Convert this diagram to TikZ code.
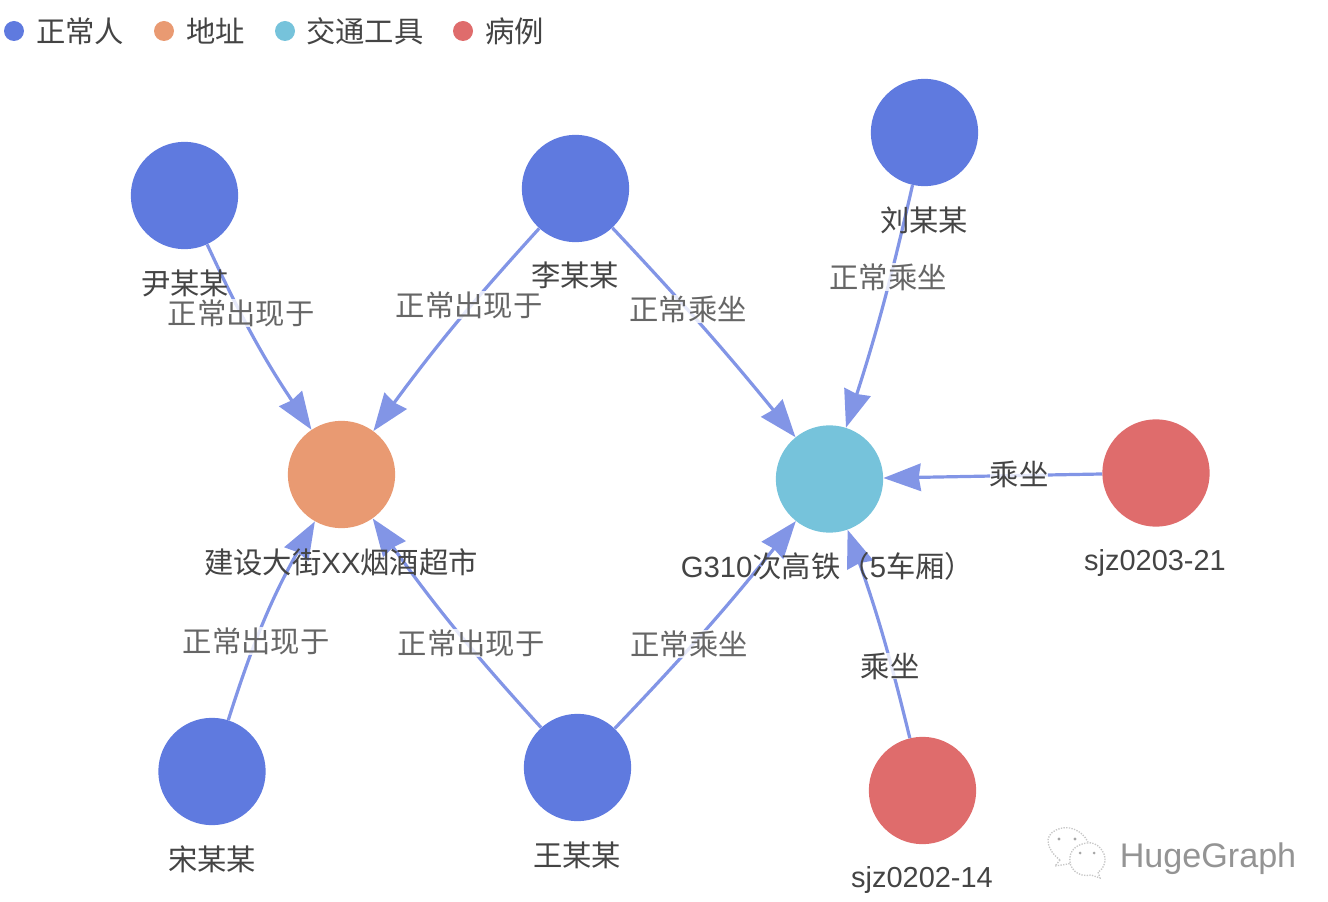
\documentclass[tikz,border=0pt]{standalone}
\usepackage{fontspec}
\setmainfont{Liberation Sans}
\newfontfamily\cjk{Noto Sans CJK SC}
\newfontfamily\latf{Liberation Sans}
\usetikzlibrary{arrows.meta}
\definecolor{cperson}{HTML}{5F7ADF}
\definecolor{caddr}{HTML}{E99A72}
\definecolor{ctrans}{HTML}{76C3DB}
\definecolor{ccase}{HTML}{DF6C6C}
\definecolor{cedge}{HTML}{8295E6}
\definecolor{cname}{HTML}{444444}
\definecolor{clabel}{HTML}{666666}
\tikzset{
  x=0.75pt,y=-0.75pt,
  vertex/.style={circle,minimum size=80.5pt,inner sep=0pt,draw=none},
  person/.style={vertex,fill=cperson},
  addr/.style={vertex,fill=caddr},
  trans/.style={vertex,fill=ctrans},
  case/.style={vertex,fill=ccase},
  link/.style={cedge,line width=2.4pt,-{Stealth[length=28pt,width=20.5pt,inset=1.5pt]}},
  nm/.style={text=cname,font=\fontsize{22}{24}\selectfont\cjk,inner sep=0pt},
  lt/.style={text=cname,font=\fontsize{21.7}{24}\selectfont\latf,inner sep=0pt},
  el/.style={text=clabel,font=\fontsize{22}{24}\selectfont\cjk,inner sep=0pt,fill=white,fill opacity=.8,text opacity=1},
  eldark/.style={el,text=cname},
  legdot/.style={circle,minimum size=15pt,inner sep=0pt},
  legt/.style={text=cname,font=\fontsize{22}{24}\selectfont\cjk,inner sep=0pt,anchor=west},
  wm/.style={draw=black!22,line width=1pt,densely dotted}
}
\begin{document}
\begin{tikzpicture}
\useasboundingbox (0,0) rectangle (1328,902);
% legend
\node[legdot,fill=cperson] (l1) at (14,31) {};
\node[legt] (l1t) at (36,31) {正常人};
\node[legdot,fill=caddr] (l2) at (164,31) {};
\node[legt] (l2t) at (186,31) {地址};
\node[legdot,fill=ctrans] (l3) at (285,31) {};
\node[legt] (l3t) at (306,31) {交通工具};
\node[legdot,fill=ccase] (l4) at (463,31) {};
\node[legt] (l4t) at (485,31) {病例};
% vertices
\node[person] (yin) at (184.5,195.5) {};
\node[person] (li) at (575.5,188.5) {};
\node[person] (liu) at (924.5,132.5) {};
\node[addr] (shop) at (341.5,474.5) {};
\node[trans] (train) at (829.5,479) {};
\node[case] (s21) at (1156,473) {};
\node[person] (song) at (212,771.5) {};
\node[person] (wang) at (577.5,767.5) {};
\node[case] (s14) at (922.5,790.5) {};
% edges
\draw[link] (yin) to[bend right=4.5] (shop);
\draw[link] (li) to[bend right=3] (shop);
\draw[link] (li) to[bend left=2] (train);
\draw[link] (liu) to[bend left=2.5] (train);
\draw[link] (s21) -- (train);
\draw[link] (song) to[bend left=6] (shop);
\draw[link] (wang) to[bend left=3.5] (shop);
\draw[link] (wang) to[bend right=2.5] (train);
\draw[link] (s14) to[bend right=3] (train);
% edge labels
\node[el] (e1) at (241,313) {正常出现于};
\node[el] (e2) at (469,305) {正常出现于};
\node[el] (e3) at (688,309) {正常乘坐};
\node[el] (e4) at (888,277) {正常乘坐};
\node[eldark] (e5) at (1019,474) {乘坐};
\node[el] (e6) at (256,641) {正常出现于};
\node[el] (e7) at (471,643) {正常出现于};
\node[el] (e8) at (689,644) {正常乘坐};
\node[eldark] (e9) at (890,666) {乘坐};
% vertex names
\node[nm] (nyin) at (185,283) {尹某某};
\node[nm] (nli) at (575,275) {李某某};
\node[nm] (nliu) at (924,220) {刘某某};
\node[nm] (nshop) at (341,562) {建设大街{\latf XX}烟酒超市};
\node[nm] (ntrain) at (827.5,566) {{\latf G310}次高铁（{\latf 5}车厢）};
\node[lt] (ns21) at (1155,563.5) {sjz0203-21};
\node[nm] (nsong) at (212,859) {宋某某};
\node[nm] (nwang) at (577,855) {王某某};
\node[lt] (ns14) at (922,880.5) {sjz0202-14};
% watermark
\draw[wm] (1060,860) .. controls (1047,850) and (1043,836) .. (1056,830)
  .. controls (1068,824) and (1082,830) .. (1088,842);
\draw[wm] (1060,860) -- (1055,866) -- (1068,864) -- (1071,863);
\draw[wm] (1087,843) .. controls (1097,841) and (1106,852) .. (1105,861)
  .. controls (1104,868) and (1100,871) .. (1098,872) -- (1100,878) -- (1091,875)
  .. controls (1078,878) and (1068,868) .. (1070,857)
  .. controls (1071,849) and (1078,844) .. (1087,843);
\fill[black!35] (1059,839) circle (1.6) (1075,839) circle (1.6) (1080,853) circle (1.5) (1094,853) circle (1.5);
\node[text=black!42,font=\fontsize{25.6}{28}\selectfont\latf,inner sep=0pt] (wmt) at (1208,859) {HugeGraph};
\end{tikzpicture}
\end{document}
